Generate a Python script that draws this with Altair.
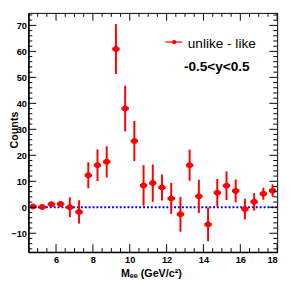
import altair as alt
import pandas as pd

# ---- data ----
mass = [4.75, 5.25, 5.75, 6.25, 6.75, 7.25, 7.75, 8.25, 8.75, 9.25, 9.75, 10.25, 10.75,
        11.25, 11.75, 12.25, 12.75, 13.25, 13.75, 14.25, 14.75, 15.25, 15.75, 16.25,
        16.75, 17.25, 17.75]
counts = [0.3, 0.1, 1.2, 1.3, 0.0, -1.8, 12.3, 16.2, 17.5, 60.9, 38.0, 25.5, 8.4,
          9.3, 7.6, 3.4, -2.7, 16.2, 4.2, -6.6, 5.6, 8.3, 6.3, -0.7,
          2.1, 5.2, 6.4]
errors = [0.6, 0.6, 0.9, 0.9, 3.8, 4.5, 5.0, 6.1, 6.0, 9.6, 8.8, 7.7, 7.8,
          7.2, 5.0, 6.0, 6.7, 6.0, 6.4, 6.5, 5.3, 5.5, 4.4, 4.0,
          3.4, 2.3, 2.4]
bin_half = 0.2

x_domain = [4.5, 18]
y_domain = [-17.2, 74.8]
x_major = [6, 8, 10, 12, 14, 16, 18]
x_minor = [5.0, 5.5, 6.5, 7.0, 7.5, 8.5, 9.0, 9.5, 10.5, 11.0, 11.5, 12.5, 13.0,
           13.5, 14.5, 15.0, 15.5, 16.5, 17.0, 17.5]
y_major = [-10, 0, 10, 20, 30, 40, 50, 60, 70]
y_minor = [-16, -14, -12, -8, -6, -4, -2, 2, 4, 6, 8, 12, 14, 16, 18, 22, 24, 26, 28,
           32, 34, 36, 38, 42, 44, 46, 48, 52, 54, 56, 58, 62, 64, 66, 68, 72, 74]
zero_line = [0]
legend_label = "unlike - like"
rapidity_label = "-0.5<y<0.5"
x_title = "M\u2091\u2091 (GeV/c\u00b2)"
y_title = "Counts"

W, H = 256, 246
RED = "#ff0000"
FONT = "Liberation Sans"

df = pd.DataFrame({"m": mass, "c": counts, "e": errors})
df["lo"] = df["c"] - df["e"]
df["hi"] = df["c"] + df["e"]
df["xl"] = df["m"] - bin_half
df["xr"] = df["m"] + bin_half

xs = alt.Scale(domain=x_domain, nice=False, zero=False)
ys = alt.Scale(domain=y_domain, nice=False, zero=False)

x_axis = alt.Axis(values=x_major, ticks=False, grid=False, labelFont=FONT,
                  labelFontWeight="bold", labelFontSize=9.5, labelPadding=3,
                  labelColor="black", domainColor="black", domainWidth=1.5,
                  title=x_title, titleFont=FONT, titleFontWeight="bold",
                  titleFontSize=11, titleColor="black", titleX=126, titleY=25,
                  titleBaseline="alphabetic", titleAlign="center")
y_axis = alt.Axis(values=y_major, ticks=False, grid=False, labelFont=FONT,
                  labelFontWeight="bold", labelFontSize=9.5, labelPadding=2,
                  labelColor="black", domainColor="black", domainWidth=1.5,
                  title=y_title, titleFont=FONT, titleFontWeight="bold",
                  titleFontSize=11, titleColor="black", titleAngle=270,
                  titleX=-20.5, titleY=120, titleBaseline="top", titleAlign="center")

base = alt.Chart(df)

zl = alt.Chart(pd.DataFrame({"z": zero_line})).mark_rule(
    color="#0000ff", strokeDash=[2, 2], strokeWidth=2
).encode(y=alt.Y("z:Q", scale=ys, axis=y_axis))

vbars = base.mark_rule(color=RED, strokeWidth=2).encode(
    x=alt.X("m:Q", scale=xs, axis=x_axis),
    y=alt.Y("lo:Q", scale=ys, axis=y_axis),
    y2="hi:Q",
)
hbars = base.mark_rule(color=RED, strokeWidth=3).encode(
    x=alt.X("xl:Q", scale=xs, axis=x_axis), x2="xr:Q",
    y=alt.Y("c:Q", scale=ys, axis=y_axis),
)
pts = base.mark_circle(color=RED, size=38, opacity=1).encode(
    x=alt.X("m:Q", scale=xs, axis=x_axis),
    y=alt.Y("c:Q", scale=ys, axis=y_axis),
)

def yticks(vals, length, right=False):
    x0 = W if right else 0
    x1 = W - length if right else length
    return alt.Chart(pd.DataFrame({"v": vals})).mark_rule(color="black", strokeWidth=1).encode(
        y=alt.Y("v:Q", scale=ys, axis=y_axis), x=alt.value(x0), x2=alt.value(x1))

def xticks(vals, length, top=False):
    y0 = 0 if top else H
    y1 = length if top else H - length
    return alt.Chart(pd.DataFrame({"v": vals})).mark_rule(color="black", strokeWidth=1).encode(
        x=alt.X("v:Q", scale=xs, axis=x_axis), y=alt.value(y0), y2=alt.value(y1))

ticks = [
    yticks(y_major, 8), yticks(y_minor, 4),
    yticks(y_major, 8, True), yticks(y_minor, 4, True),
    xticks(x_major, 8), xticks(x_minor, 4),
    xticks(x_major, 8, True), xticks(x_minor, 4, True),
]

one = pd.DataFrame({"k": [0]})
leg_line = alt.Chart(one).mark_rule(color="#ff5a5a", strokeWidth=2).encode(
    x=alt.value(141), x2=alt.value(158), y=alt.value(30))
leg_dot = alt.Chart(one).mark_circle(color=RED, size=20, opacity=1).encode(
    x=alt.value(150), y=alt.value(30))
leg_text = alt.Chart(one).mark_text(
    font=FONT, fontSize=14, align="left", baseline="alphabetic", color="black"
).encode(x=alt.value(164), y=alt.value(36), text=alt.value(legend_label))
rap_text = alt.Chart(one).mark_text(
    font=FONT, fontSize=14, fontWeight="bold", align="left", baseline="alphabetic",
    color="black"
).encode(x=alt.value(160), y=alt.value(60), text=alt.value(rapidity_label))

chart = alt.layer(
    zl, vbars, hbars, pts, *ticks, leg_line, leg_dot, leg_text, rap_text
).properties(
    width=W, height=H, autosize="none",
    padding={"left": 21, "top": 1, "right": 6, "bottom": 32},
    background="white",
).configure_view(stroke="black", strokeWidth=1)

chart.save("out.html", embed_options={"renderer": "svg", "actions": False})
